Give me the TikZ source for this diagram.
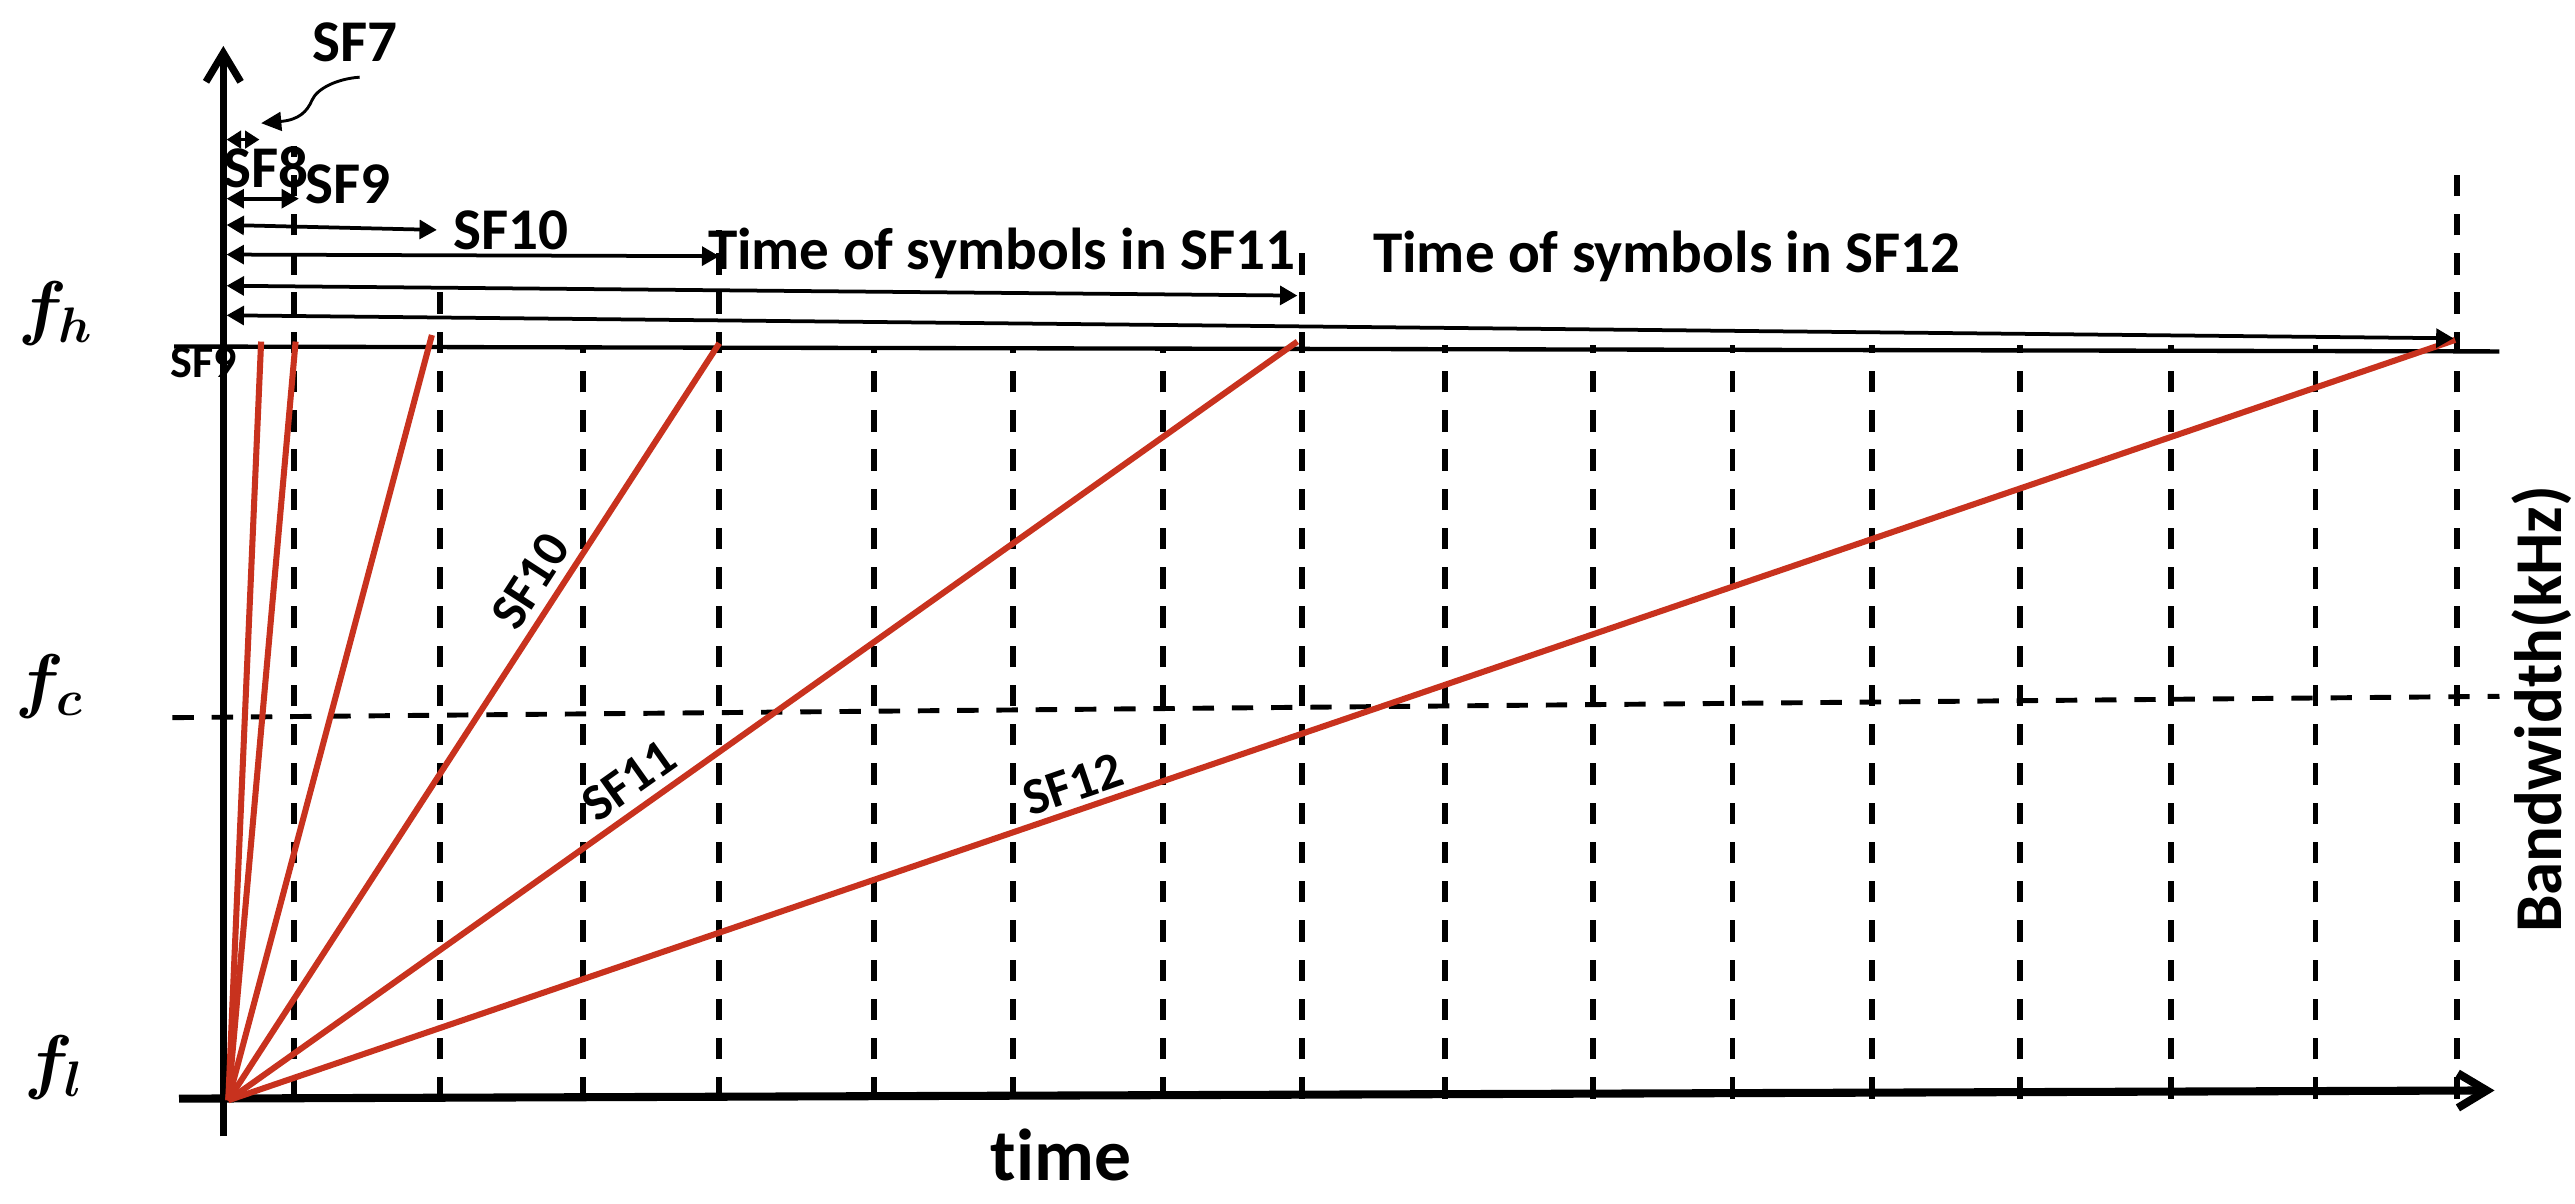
\documentclass[tikz,border=0pt]{standalone}
\usepackage{fontspec}
\usepackage{bm}
\newfontfamily\cf{Carlito}[Ligatures=NoCommon]
\usetikzlibrary{arrows.meta}
\definecolor{chirp}{RGB}{200,50,30}
\begin{document}
\begin{tikzpicture}[x=0.02cm,y=-0.02cm,
 gridline/.style={line width=2pt, dash pattern=on 7.4pt off 6.2pt},
 chirpline/.style={chirp, line width=2.1pt},
 span/.style={line width=1.3pt, {Triangle[length=6pt,width=6.5pt]}-{Triangle[length=6pt,width=6.5pt]}},
 lbl/.style={font=\cf\bfseries\fontsize{20.5}{24}\selectfont, inner sep=0pt},
 slbl/.style={font=\cf\bfseries\fontsize{18}{21}\selectfont, inner sep=0pt, text=black},
 flbl/.style={font=\fontsize{25}{30}\selectfont, inner sep=0pt},
 ]
\useasboundingbox (0,0) rectangle (1568,733);
\coordinate (O) at (139,670);

% vertical dashed grid
\foreach \x/\t in {179/89, 268/170, 355/212, 438/140, 532/212, 617/212, 708/212, 793/150, 880/210, 970/210, 1055/210, 1140/210, 1230/210, 1322/210, 1410/210, 1496/100}
  \draw[gridline] (\x,669) -- (\x,\t);

% f_c dashed line
\draw[line width=1.7pt, dash pattern=on 7.4pt off 6.2pt] (105,437) -- (1522,424);
% f_h line
\draw[line width=1.5pt] (106,211) -- (1522,214);

% left SF9 label (partly under the axis)
\node[font=\cf\bfseries\fontsize{16}{19}\selectfont, inner sep=0pt] (sf9b) at (124,221) {SF9};

% axes
\draw[line width=2.5pt, -{Straight Barb[length=10pt,width=12pt]}] (136,692) -- (136,28);
\draw[line width=2.8pt, -{Straight Barb[length=10pt,width=12pt]}] (109,669) -- (1519,664);

% chirps
\draw[chirpline] (O) -- (159,208);
\draw[chirpline] (O) -- (180,208);
\draw[chirpline] (O) -- (263,204);
\draw[chirpline] (O) -- node[pos=0.665, sloped, above=3pt, slbl] (l10) {SF10} (438,209);
\draw[chirpline] (O) -- node[pos=0.39, sloped, above=3pt, slbl] (l11) {SF11} (790,208);
\draw[chirpline] (O) -- node[pos=0.383, sloped, above=2pt, slbl] (l12) {SF12} (1495,207);

% span arrows
\draw[line width=1.3pt, {Triangle[length=5pt,width=6pt]}-{Triangle[length=5pt,width=6pt]}] (138,85) -- (158,85);
\draw[span] (138,121) -- (182,121);
\draw[span] (138,137) -- (266,140);
\draw[span] (138,155) -- (438,156);
\draw[span] (138,174) -- (790,180);
\draw[span] (138,192) -- (1494,206);

% top labels
\node[lbl] (sf7) at (216,26) {SF7};
\node[lbl] (sf8) at (162,102) {SF8};
\node[lbl] (sf9a) at (212,112) {SF9};
\node[lbl] (sf10) at (311,140) {SF10};
\node[lbl] (t11) at (610,154) {Time of symbols in SF11};
\node[lbl] (t12) at (1015,156) {Time of symbols in SF12};

% curved pointer from SF7
\coordinate (c0) at (219,47);
\coordinate (c1) at (190,61);
\coordinate (c2) at (159,75);
\draw[line width=1pt, -{Triangle[length=7pt,width=6.5pt]}] (c0) .. controls (205,48) and (193,54) .. (c1) .. controls (187,68) and (182,73) .. (c2);

% axis labels
\node[flbl] (fh) at (34,191) {$\bm{f_h}$};
\node[flbl] (fc) at (30,418) {$\bm{f_c}$};
\node[flbl] (fl) at (33,650) {$\bm{f_l}$};
\node[font=\cf\bfseries\fontsize{25.5}{30}\selectfont, inner sep=0pt] (time) at (646,703) {time};
\node[font=\cf\bfseries\fontsize{23.2}{27}\selectfont, inner sep=0pt, rotate=90] (bw) at (1548,432) {Bandwidth(kHz)};
\end{tikzpicture}
\end{document}
